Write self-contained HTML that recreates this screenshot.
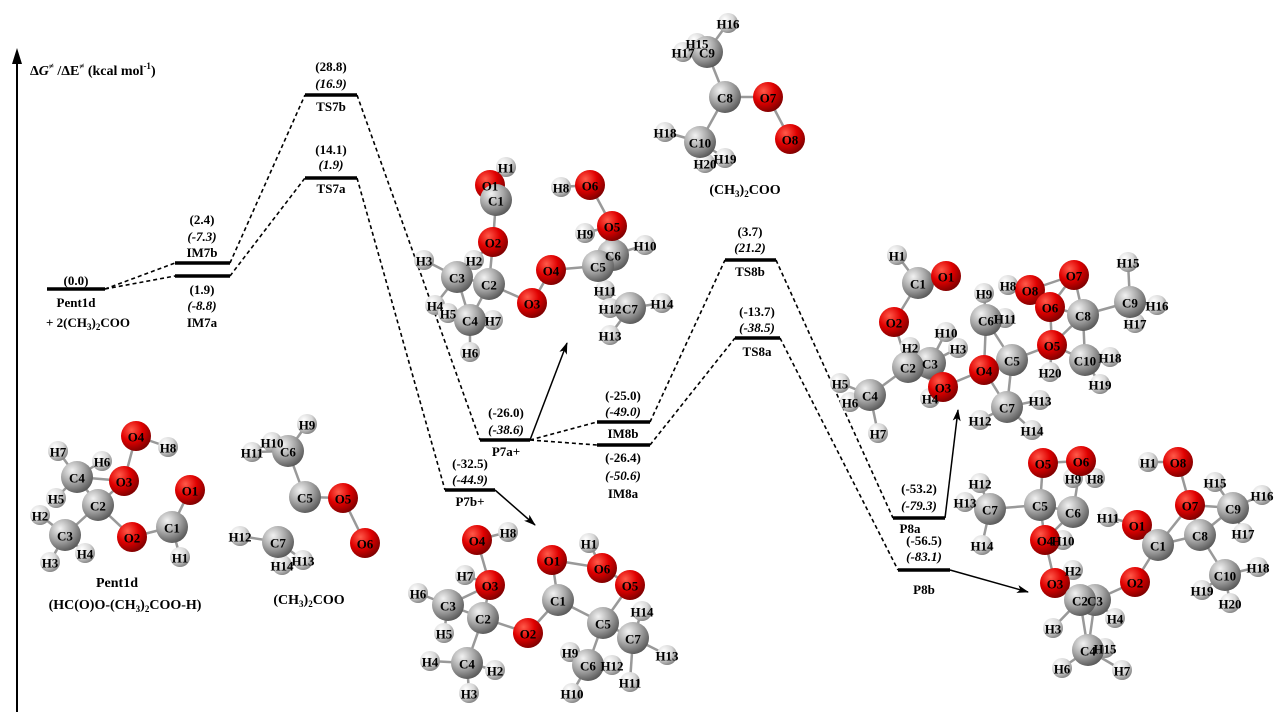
<!DOCTYPE html>
<html><head><meta charset="utf-8"><style>
html,body{margin:0;padding:0;background:#fff;}
svg{display:block;font-family:"Liberation Serif",serif;}
.t{font-size:13px;font-weight:bold;text-anchor:middle;}
.i{font-style:italic;}
.a{font-size:13px;font-weight:bold;text-anchor:middle;dominant-baseline:central;}
</style></head><body>
<svg id="s" width="1288" height="724" viewBox="0 0 1288 724" xmlns="http://www.w3.org/2000/svg">
<defs>
<radialGradient id="gC" cx="0.35" cy="0.3" r="0.75"><stop offset="0" stop-color="#f2f2f2"/><stop offset="0.5" stop-color="#a8a8a8"/><stop offset="1" stop-color="#555"/></radialGradient>
<radialGradient id="gO" cx="0.35" cy="0.3" r="0.75"><stop offset="0" stop-color="#ff5a4a"/><stop offset="0.5" stop-color="#e00000"/><stop offset="1" stop-color="#7a0000"/></radialGradient>
<radialGradient id="gH" cx="0.35" cy="0.3" r="0.75"><stop offset="0" stop-color="#ffffff"/><stop offset="0.55" stop-color="#d8d8d8"/><stop offset="1" stop-color="#808080"/></radialGradient>
<marker id="ar" markerWidth="12" markerHeight="8" refX="11" refY="4" orient="auto" markerUnits="userSpaceOnUse"><path d="M0,0 L12,4 L0,8 L3,4z" fill="#000"/></marker>
</defs>
<line x1="17" y1="712" x2="17" y2="60" stroke="#000" stroke-width="2"/>
<path d="M17,48 L12,64 L22,64z" fill="#000"/>
<text x="30" y="75" style="font-size:14px;font-weight:bold">Δ<tspan font-style="italic">G</tspan><tspan font-size="9" dy="-6">≠</tspan><tspan dy="6"> /Δ</tspan>E<tspan font-size="9" dy="-6">≠</tspan><tspan dy="6">  (kcal mol</tspan><tspan font-size="9" dy="-6">-1</tspan><tspan dy="6">)</tspan></text>
<g stroke="#000" stroke-width="1.6" stroke-dasharray="4,3" fill="none">
<line x1="105" y1="289" x2="175" y2="263"/><line x1="105" y1="289" x2="175" y2="276"/>
<line x1="230" y1="263" x2="305" y2="95"/><line x1="230" y1="276" x2="305" y2="178"/>
<line x1="357" y1="95" x2="480" y2="440"/><line x1="357" y1="178" x2="445" y2="490"/>
<line x1="530" y1="440" x2="597" y2="422"/><line x1="530" y1="440" x2="597" y2="445"/>
<line x1="650" y1="422" x2="725" y2="260"/><line x1="650" y1="445" x2="735" y2="338"/>
<line x1="776" y1="260" x2="893" y2="518"/><line x1="780" y1="338" x2="898" y2="570"/>
</g>
<g stroke="#000" stroke-width="3.5">
<line x1="47" y1="289" x2="105" y2="289"/>
<line x1="175" y1="263" x2="230" y2="263"/><line x1="175" y1="276" x2="230" y2="276"/>
<line x1="305" y1="95" x2="357" y2="95"/><line x1="305" y1="178" x2="357" y2="178"/>
<line x1="480" y1="440" x2="530" y2="440"/><line x1="445" y1="490" x2="495" y2="490"/>
<line x1="597" y1="422" x2="650" y2="422"/><line x1="597" y1="445" x2="650" y2="445"/>
<line x1="725" y1="260" x2="776" y2="260"/><line x1="735" y1="338" x2="780" y2="338"/>
<line x1="893" y1="518" x2="945" y2="518"/><line x1="898" y1="570" x2="950" y2="570"/>
</g>
<g stroke="#000" stroke-width="1.5">
<line x1="530" y1="440" x2="567" y2="343" marker-end="url(#ar)"/>
<line x1="495" y1="490" x2="535" y2="525" marker-end="url(#ar)"/>
<line x1="945" y1="518" x2="958" y2="410" marker-end="url(#ar)"/>
<line x1="950" y1="570" x2="1028" y2="592" marker-end="url(#ar)"/>
</g>
<g id="mol"></g>
<g class="t">
<text x="76" y="285">(0.0)</text><text x="76" y="307">Pent1d</text>
<text x="88" y="327">+ 2(CH<tspan font-size="9" dy="3">3</tspan><tspan dy="-3">)</tspan><tspan font-size="9" dy="3">2</tspan><tspan dy="-3">COO</tspan></text>
<text x="202" y="224">(2.4)</text><text x="202" y="241" class="i">(-7.3)</text><text x="202" y="257">IM7b</text>
<text x="202" y="294">(1.9)</text><text x="202" y="310" class="i">(-8.8)</text><text x="202" y="327">IM7a</text>
<text x="331" y="71">(28.8)</text><text x="331" y="88" class="i">(16.9)</text><text x="331" y="111">TS7b</text>
<text x="331" y="154">(14.1)</text><text x="331" y="169" class="i">(1.9)</text><text x="331" y="193">TS7a</text>
<text x="506" y="417">(-26.0)</text><text x="506" y="434" class="i">(-38.6)</text><text x="506" y="456">P7a+</text>
<text x="470" y="468">(-32.5)</text><text x="470" y="484" class="i">(-44.9)</text><text x="470" y="506">P7b+</text>
<text x="623" y="400">(-25.0)</text><text x="623" y="416" class="i">(-49.0)</text><text x="623" y="438">IM8b</text>
<text x="623" y="462">(-26.4)</text><text x="623" y="480" class="i">(-50.6)</text><text x="623" y="498">IM8a</text>
<text x="750" y="236">(3.7)</text><text x="750" y="252" class="i">(21.2)</text><text x="750" y="276">TS8b</text>
<text x="757" y="316">(-13.7)</text><text x="757" y="332" class="i">(-38.5)</text><text x="757" y="356">TS8a</text>
<text x="919" y="493">(-53.2)</text><text x="919" y="510" class="i">(-79.3)</text><text x="910" y="533">P8a</text>
<text x="924" y="545">(-56.5)</text><text x="924" y="561" class="i">(-83.1)</text><text x="924" y="594">P8b</text>
<text x="117" y="587" style="font-size:14px">Pent1d</text>
<text x="125" y="609" style="font-size:14px">(HC(O)O-(CH<tspan font-size="9" dy="3">3</tspan><tspan dy="-3">)</tspan><tspan font-size="9" dy="3">2</tspan><tspan dy="-3">COO-H)</tspan></text>
<text x="309" y="604" style="font-size:14px">(CH<tspan font-size="9" dy="3">3</tspan><tspan dy="-3">)</tspan><tspan font-size="9" dy="3">2</tspan><tspan dy="-3">COO</tspan></text>
<text x="745" y="194" style="font-size:14px">(CH<tspan font-size="9" dy="3">3</tspan><tspan dy="-3">)</tspan><tspan font-size="9" dy="3">2</tspan><tspan dy="-3">COO</tspan></text>
</g>
</svg>
<script>
var M=[
[["H7",58,451],["H6",102,461],["O4",136,436],["H8",168,447],["C4",77,477],["O3",124,481],["H5",56,498],["C2",98,505],["O1",190,490],["H2",40,515],["C3",65,535],["O2",132,537],["C1",172,527],["H4",85,553],["H3",50,562],["H1",180,557]],
[["H9",307,424],["H10",272,442],["H11",252,452],["C6",288,451],["C5",305,497],["O5",343,498],["C7",278,542],["H12",240,536],["O6",365,543],["H14",282,565],["H13",303,560]],
[["H1",506,167],["O1",490,185],["C1",496,200],["O2",493,242],["H3",424,260],["H2",474,260],["C3",457,277],["C2",489,284],["O4",551,270],["C6",613,255],["C5",598,266],["H9",585,233],["O5",612,226],["O6",590,185],["H8",561,187],["H10",645,245],["O3",532,303],["H4",435,305],["H5",448,313],["C4",470,320],["H7",493,320],["H6",470,352],["H11",605,290],["C7",630,308],["H12",610,308],["H14",662,303],["H13",610,335]],
[["H16",728,23],["H15",697,43],["H17",683,52],["C9",707,52],["C8",725,97],["O7",768,97],["H18",665,132],["C10",700,142],["O8",790,139],["H19",725,158],["H20",705,163]],
[["H1",897,255],["C1",918,283],["O1",946,276],["H8",1008,285],["O8",1030,290],["O7",1074,275],["H15",1128,262],["H9",984,293],["C9",1130,302],["H16",1157,305],["O6",1050,307],["C8",1083,315],["H11",1005,318],["C6",986,320],["H17",1135,323],["O2",894,322],["H10",946,332],["O5",1052,345],["H2",910,347],["H3",958,348],["C5",1012,360],["C3",930,363],["C2",908,367],["O4",984,370],["C10",1085,360],["H18",1110,357],["H20",1050,372],["O3",943,387],["H5",840,383],["C4",870,395],["H6",850,402],["H4",930,398],["H19",1100,384],["C7",1007,407],["H13",1040,400],["H12",980,420],["H7",878,433],["H14",1032,430]],
[["O5",1043,463],["O6",1081,461],["H1",1148,462],["O8",1178,462],["H12",980,483],["H9",1073,478],["H8",1095,478],["C7",990,509],["H13",965,502],["C5",1040,505],["C6",1073,512],["H11",1108,517],["O7",1190,505],["H15",1215,482],["C9",1233,508],["H16",1262,495],["O1",1137,525],["C8",1200,535],["C1",1158,545],["O4",1045,540],["H10",1063,540],["H17",1243,533],["H14",982,545],["H2",1073,570],["O3",1055,583],["O2",1135,582],["C10",1225,575],["H18",1258,567],["H19",1202,590],["C3",1095,600],["C2",1080,600],["H20",1230,603],["H4",1115,618],["H3",1053,628],["C4",1088,650],["H15",1105,648],["H6",1062,668],["H7",1122,670]],
[["O4",477,540],["H8",508,532],["O1",552,560],["H1",589,543],["H7",465,575],["O3",490,585],["O6",602,568],["O5",630,585],["H6",418,593],["C3",448,605],["C1",558,600],["H14",642,611],["C2",483,618],["O2",528,633],["C5",603,623],["H5",444,633],["C7",633,638],["H13",667,655],["H9",570,652],["H4",430,661],["C4",467,663],["H2",495,670],["C6",588,665],["H12",612,665],["H11",630,682],["H3",469,693],["H10",572,693]]
];
(function(){
var g=document.getElementById("mol"),h="";
function isH(a){return a[0].charAt(0)==="H";}
M.forEach(function(m){
 for(var i=0;i<m.length;i++){
  var a=m[i];
  if(isH(a)){
   var best=null,bd=1e9;
   m.forEach(function(b){if(!isH(b)){var d=Math.hypot(a[1]-b[1],a[2]-b[2]);if(d<bd){bd=d;best=b;}}});
   if(best&&bd<50)h+='<line x1="'+a[1]+'" y1="'+a[2]+'" x2="'+best[1]+'" y2="'+best[2]+'" stroke="#999" stroke-width="2.5"/>';
   continue;
  }
  for(var j=i+1;j<m.length;j++){
   var b=m[j];if(isH(b))continue;
   var d=Math.hypot(a[1]-b[1],a[2]-b[2]);
   if(d<52)h+='<line x1="'+a[1]+'" y1="'+a[2]+'" x2="'+b[1]+'" y2="'+b[2]+'" stroke="#999" stroke-width="2.5"/>';
  }
 }
});
M.forEach(function(m){
 m.slice().sort(function(a,b){return (isH(a)?0:1)-(isH(b)?0:1);}).forEach(function(a){
  var t=a[0].charAt(0),r=t=="H"?10:(t=="C"?16:15),f=t=="H"?"gH":t=="O"?"gO":"gC";
  h+='<circle cx="'+a[1]+'" cy="'+a[2]+'" r="'+r+'" fill="url(#'+f+')"/>';
 });
 m.forEach(function(a){h+='<text class="a" x="'+a[1]+'" y="'+(a[2]+1)+'">'+a[0]+'</text>';});
});
g.innerHTML=h;
})();
</script>
</body></html>
